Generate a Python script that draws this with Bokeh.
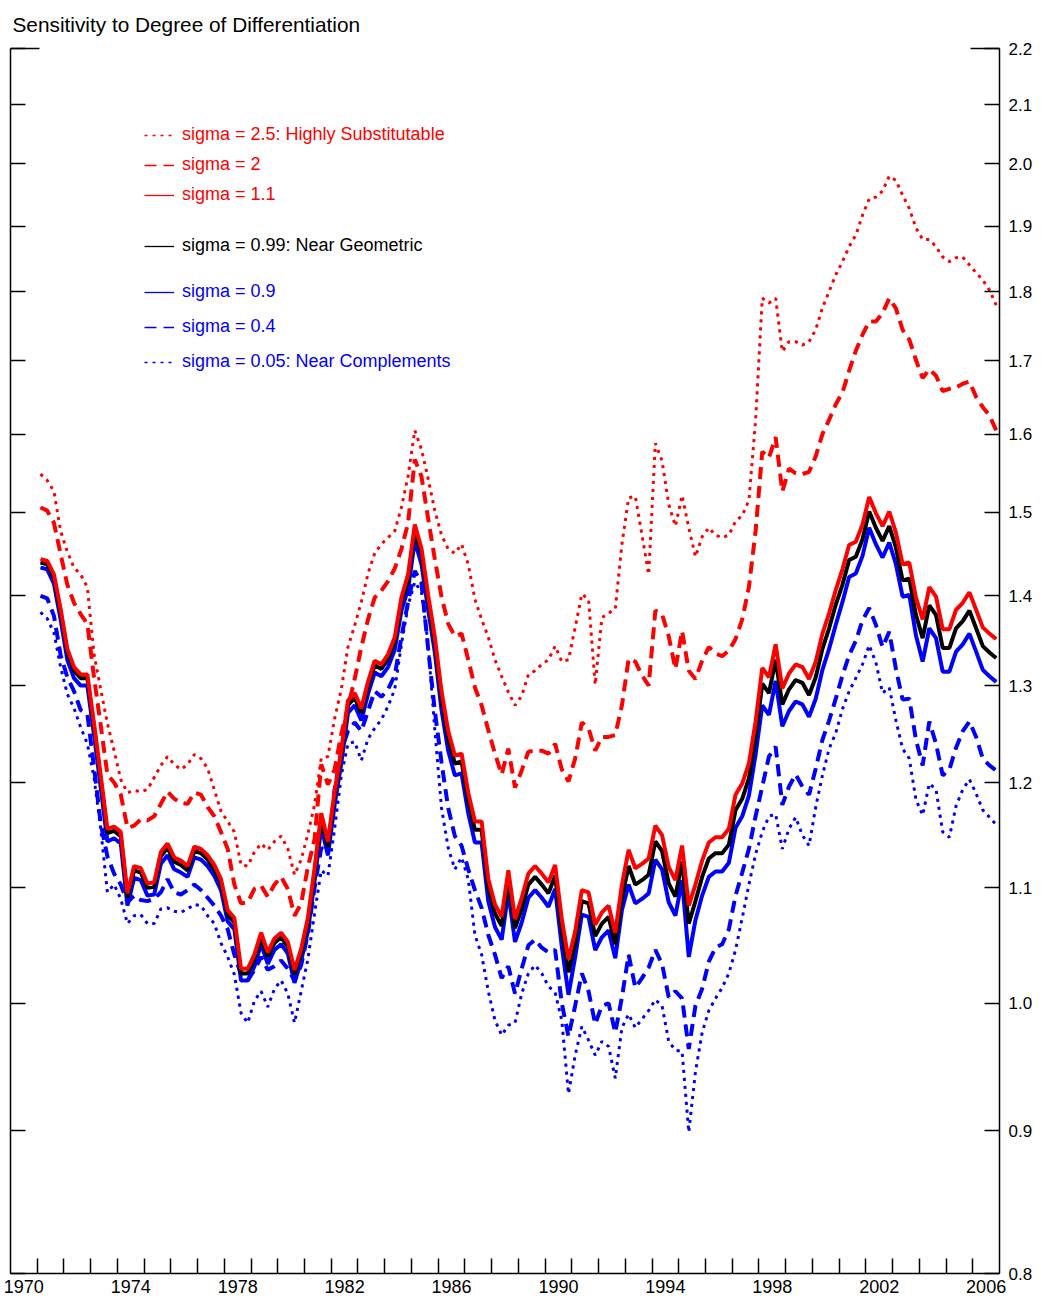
from bokeh.plotting import figure
from bokeh.models import (Range1d, LogAxis, FixedTicker, NumeralTickFormatter,
                          Legend, LegendItem)
from bokeh.embed import file_html
from bokeh.resources import INLINE

# ---------------- data (quarterly, 1971Q1 .. 2006Q4) ----------------
years = list(range(1971, 2007))
dates = [y + (q - 0.5) / 4 for y in years for q in range(1, 5)]

sigma_2_5 = [
    1.548, 1.540, 1.526, 1.477, 1.452, 1.433, 1.425, 1.410,
    1.334, 1.296, 1.260, 1.232, 1.203, 1.190, 1.192, 1.191,
    1.193, 1.205, 1.217, 1.226, 1.218, 1.213, 1.218, 1.228,
    1.224, 1.214, 1.193, 1.172, 1.162, 1.152, 1.121, 1.120,
    1.133, 1.141, 1.135, 1.143, 1.148, 1.136, 1.112, 1.126,
    1.150, 1.178, 1.224, 1.226, 1.265, 1.296, 1.342, 1.366,
    1.393, 1.426, 1.450, 1.461, 1.469, 1.477, 1.506, 1.546,
    1.605, 1.580, 1.542, 1.502, 1.472, 1.455, 1.450, 1.461,
    1.437, 1.396, 1.373, 1.353, 1.328, 1.310, 1.293, 1.279,
    1.289, 1.312, 1.316, 1.323, 1.328, 1.343, 1.326, 1.328,
    1.364, 1.402, 1.396, 1.301, 1.375, 1.380, 1.385, 1.461,
    1.518, 1.520, 1.472, 1.425, 1.588, 1.565, 1.510, 1.483,
    1.521, 1.481, 1.446, 1.470, 1.481, 1.472, 1.469, 1.472,
    1.489, 1.496, 1.515, 1.618, 1.790, 1.783, 1.790, 1.713,
    1.727, 1.727, 1.722, 1.727, 1.744, 1.776, 1.800, 1.825,
    1.845, 1.868, 1.886, 1.917, 1.943, 1.946, 1.956, 1.980,
    1.973, 1.949, 1.928, 1.897, 1.879, 1.879, 1.868, 1.852,
    1.845, 1.851, 1.852, 1.840, 1.828, 1.817, 1.802, 1.780,
]

sigma_2 = [
    1.506, 1.502, 1.487, 1.449, 1.413, 1.392, 1.379, 1.368,
    1.309, 1.258, 1.208, 1.200, 1.188, 1.156, 1.158, 1.164,
    1.163, 1.167, 1.179, 1.191, 1.184, 1.180, 1.179, 1.190,
    1.188, 1.176, 1.167, 1.152, 1.136, 1.103, 1.086, 1.087,
    1.099, 1.102, 1.092, 1.103, 1.110, 1.099, 1.075, 1.086,
    1.119, 1.145, 1.218, 1.198, 1.213, 1.249, 1.277, 1.307,
    1.342, 1.373, 1.398, 1.406, 1.417, 1.432, 1.455, 1.487,
    1.567, 1.545, 1.492, 1.443, 1.399, 1.368, 1.354, 1.357,
    1.328, 1.298, 1.279, 1.253, 1.229, 1.208, 1.234, 1.195,
    1.212, 1.231, 1.232, 1.232, 1.229, 1.239, 1.213, 1.201,
    1.224, 1.261, 1.255, 1.232, 1.246, 1.246, 1.248, 1.279,
    1.329, 1.326, 1.311, 1.300, 1.383, 1.379, 1.354, 1.318,
    1.360, 1.316, 1.307, 1.327, 1.342, 1.335, 1.332, 1.338,
    1.351, 1.373, 1.410, 1.477, 1.577, 1.569, 1.596, 1.526,
    1.555, 1.549, 1.548, 1.551, 1.571, 1.600, 1.619, 1.640,
    1.656, 1.686, 1.714, 1.737, 1.756, 1.756, 1.768, 1.790,
    1.775, 1.744, 1.730, 1.701, 1.676, 1.688, 1.679, 1.658,
    1.661, 1.663, 1.668, 1.671, 1.650, 1.636, 1.625, 1.605,
]

sigma_1_1 = [
    1.443, 1.441, 1.425, 1.385, 1.340, 1.320, 1.312, 1.312,
    1.260, 1.207, 1.155, 1.157, 1.152, 1.095, 1.120, 1.118,
    1.104, 1.105, 1.133, 1.141, 1.128, 1.125, 1.120, 1.138,
    1.136, 1.130, 1.121, 1.108, 1.080, 1.073, 1.029, 1.029,
    1.041, 1.060, 1.043, 1.055, 1.060, 1.052, 1.028, 1.046,
    1.073, 1.118, 1.170, 1.143, 1.191, 1.232, 1.284, 1.292,
    1.276, 1.304, 1.327, 1.323, 1.334, 1.353, 1.398, 1.425,
    1.485, 1.456, 1.401, 1.353, 1.294, 1.252, 1.227, 1.229,
    1.190, 1.162, 1.162, 1.108, 1.085, 1.074, 1.116, 1.072,
    1.091, 1.113, 1.120, 1.113, 1.105, 1.121, 1.072, 1.037,
    1.061, 1.098, 1.096, 1.067, 1.078, 1.084, 1.060, 1.103,
    1.135, 1.118, 1.122, 1.127, 1.158, 1.149, 1.119, 1.107,
    1.139, 1.084, 1.103, 1.125, 1.142, 1.147, 1.147, 1.155,
    1.188, 1.199, 1.219, 1.262, 1.319, 1.309, 1.345, 1.297,
    1.313, 1.323, 1.320, 1.307, 1.326, 1.357, 1.380, 1.407,
    1.431, 1.460, 1.464, 1.485, 1.519, 1.499, 1.483, 1.501,
    1.475, 1.437, 1.439, 1.398, 1.373, 1.410, 1.399, 1.362,
    1.362, 1.384, 1.392, 1.404, 1.384, 1.364, 1.357, 1.351,
]

sigma_0_99 = [
    1.439, 1.437, 1.421, 1.381, 1.336, 1.316, 1.308, 1.308,
    1.256, 1.203, 1.151, 1.153, 1.148, 1.091, 1.116, 1.114,
    1.100, 1.101, 1.129, 1.137, 1.124, 1.121, 1.116, 1.134,
    1.132, 1.126, 1.117, 1.104, 1.076, 1.069, 1.025, 1.025,
    1.037, 1.056, 1.039, 1.051, 1.056, 1.048, 1.024, 1.042,
    1.068, 1.113, 1.165, 1.138, 1.186, 1.227, 1.279, 1.287,
    1.271, 1.299, 1.322, 1.318, 1.329, 1.348, 1.392, 1.418,
    1.477, 1.448, 1.394, 1.346, 1.286, 1.244, 1.219, 1.221,
    1.182, 1.154, 1.154, 1.100, 1.077, 1.066, 1.107, 1.064,
    1.081, 1.103, 1.110, 1.103, 1.095, 1.111, 1.062, 1.026,
    1.051, 1.088, 1.086, 1.057, 1.068, 1.074, 1.050, 1.091,
    1.120, 1.103, 1.107, 1.112, 1.143, 1.134, 1.104, 1.092,
    1.124, 1.068, 1.088, 1.110, 1.127, 1.132, 1.132, 1.140,
    1.173, 1.184, 1.204, 1.246, 1.302, 1.292, 1.328, 1.280,
    1.296, 1.306, 1.303, 1.290, 1.309, 1.340, 1.363, 1.390,
    1.413, 1.442, 1.446, 1.467, 1.501, 1.481, 1.465, 1.483,
    1.457, 1.418, 1.420, 1.378, 1.352, 1.389, 1.378, 1.341,
    1.341, 1.363, 1.371, 1.383, 1.363, 1.343, 1.336, 1.330,
]

sigma_0_9 = [
    1.433, 1.431, 1.414, 1.373, 1.328, 1.308, 1.300, 1.300,
    1.248, 1.195, 1.143, 1.146, 1.141, 1.084, 1.109, 1.107,
    1.093, 1.094, 1.122, 1.130, 1.117, 1.114, 1.110, 1.128,
    1.126, 1.120, 1.111, 1.098, 1.070, 1.063, 1.019, 1.019,
    1.031, 1.050, 1.033, 1.045, 1.050, 1.042, 1.017, 1.036,
    1.061, 1.106, 1.157, 1.130, 1.178, 1.219, 1.271, 1.279,
    1.263, 1.291, 1.314, 1.310, 1.320, 1.339, 1.383, 1.408,
    1.465, 1.437, 1.384, 1.336, 1.274, 1.232, 1.207, 1.209,
    1.170, 1.142, 1.142, 1.088, 1.065, 1.054, 1.096, 1.052,
    1.069, 1.091, 1.098, 1.091, 1.083, 1.099, 1.048, 1.007,
    1.039, 1.076, 1.074, 1.045, 1.056, 1.062, 1.038, 1.080,
    1.103, 1.086, 1.090, 1.095, 1.126, 1.117, 1.087, 1.075,
    1.107, 1.039, 1.071, 1.093, 1.110, 1.115, 1.115, 1.123,
    1.156, 1.167, 1.187, 1.228, 1.279, 1.269, 1.305, 1.257,
    1.273, 1.283, 1.280, 1.267, 1.286, 1.317, 1.340, 1.367,
    1.393, 1.422, 1.426, 1.447, 1.481, 1.461, 1.445, 1.463,
    1.437, 1.399, 1.401, 1.355, 1.326, 1.363, 1.352, 1.315,
    1.315, 1.337, 1.345, 1.357, 1.337, 1.317, 1.310, 1.304,
]

sigma_0_4 = [
    1.400, 1.397, 1.377, 1.333, 1.309, 1.294, 1.274, 1.270,
    1.215, 1.160, 1.129, 1.113, 1.103, 1.087, 1.093, 1.089,
    1.088, 1.090, 1.096, 1.108, 1.096, 1.094, 1.098, 1.103,
    1.098, 1.091, 1.084, 1.075, 1.063, 1.041, 1.024, 1.019,
    1.028, 1.039, 1.028, 1.031, 1.036, 1.029, 1.019, 1.032,
    1.059, 1.100, 1.137, 1.131, 1.193, 1.232, 1.252, 1.261,
    1.252, 1.273, 1.294, 1.288, 1.296, 1.311, 1.353, 1.393,
    1.429, 1.415, 1.340, 1.273, 1.220, 1.175, 1.148, 1.139,
    1.117, 1.098, 1.082, 1.058, 1.041, 1.021, 1.031, 1.008,
    1.029, 1.049, 1.054, 1.047, 1.043, 1.045, 1.000, 0.973,
    0.998, 1.025, 1.010, 0.983, 0.998, 1.000, 0.976, 1.005,
    1.041, 1.013, 1.021, 1.030, 1.045, 1.033, 1.005, 1.010,
    1.004, 0.963, 0.998, 1.012, 1.035, 1.047, 1.050, 1.063,
    1.093, 1.114, 1.136, 1.167, 1.196, 1.226, 1.236, 1.178,
    1.196, 1.208, 1.196, 1.188, 1.214, 1.243, 1.263, 1.286,
    1.311, 1.333, 1.349, 1.372, 1.386, 1.367, 1.342, 1.359,
    1.318, 1.285, 1.286, 1.243, 1.217, 1.262, 1.239, 1.207,
    1.213, 1.235, 1.252, 1.262, 1.246, 1.224, 1.217, 1.212,
]

sigma_0_05 = [
    1.381, 1.374, 1.358, 1.320, 1.291, 1.276, 1.256, 1.239,
    1.205, 1.155, 1.096, 1.103, 1.090, 1.068, 1.075, 1.076,
    1.068, 1.068, 1.081, 1.082, 1.079, 1.078, 1.081, 1.085,
    1.084, 1.075, 1.068, 1.051, 1.039, 1.024, 0.992, 0.984,
    1.002, 1.010, 0.997, 1.012, 1.019, 1.008, 0.984, 1.010,
    1.037, 1.077, 1.116, 1.111, 1.155, 1.207, 1.239, 1.241,
    1.222, 1.244, 1.255, 1.264, 1.278, 1.296, 1.345, 1.389,
    1.416, 1.404, 1.345, 1.253, 1.175, 1.137, 1.117, 1.128,
    1.108, 1.058, 1.041, 1.010, 0.986, 0.974, 0.982, 0.984,
    1.008, 1.025, 1.032, 1.025, 1.014, 1.009, 0.986, 0.928,
    0.958, 0.981, 0.970, 0.958, 0.969, 0.965, 0.940, 0.980,
    0.991, 0.980, 0.987, 0.994, 1.003, 0.998, 0.969, 0.962,
    0.961, 0.899, 0.945, 0.976, 0.994, 1.004, 1.013, 1.025,
    1.045, 1.073, 1.103, 1.131, 1.152, 1.167, 1.169, 1.136,
    1.155, 1.166, 1.149, 1.139, 1.176, 1.207, 1.234, 1.250,
    1.275, 1.294, 1.308, 1.323, 1.344, 1.325, 1.292, 1.298,
    1.263, 1.234, 1.224, 1.183, 1.168, 1.199, 1.193, 1.152,
    1.147, 1.177, 1.193, 1.203, 1.189, 1.173, 1.166, 1.159,
]

label_years = [1970, 1974, 1978, 1982, 1986, 1990, 1994, 1998, 2002, 2006]
tick_years = list(range(1971, 2007))
y_ticks = [0.8, 0.9, 1.0, 1.1, 1.2, 1.3, 1.4, 1.5, 1.6, 1.7, 1.8, 1.9, 2.0, 2.1, 2.2]

title_text = "Sensitivity to Degree of Differentiation"
labels = [
    "sigma = 2.5: Highly Substitutable",
    "sigma = 2",
    "sigma = 1.1",
    "sigma = 0.99: Near Geometric",
    "sigma = 0.9",
    "sigma = 0.4",
    "sigma = 0.05: Near Complements",
]

RED = "#ff0000"
BLUE = "#0000ff"
BLACK = "#000000"
FONT = "Liberation Sans"
DOT = "3 5"
DASH = "12 7"

# ---------------- figure ----------------
W, H = 1041, 1300
TOP, BOTTOM, LEFT, RIGHT = 48, 27, 10, 42
p = figure(width=W, height=H,
           x_range=Range1d(1970, 2007), y_range=Range1d(0.8, 2.2),
           y_axis_type="log", y_axis_location="right",
           output_backend="svg", toolbar_location=None,
           min_border_left=LEFT, min_border_right=RIGHT,
           min_border_top=TOP, min_border_bottom=BOTTOM)
p.grid.visible = False
p.outline_line_color = None

p.title.text = title_text
p.title.text_font = FONT
p.title.text_font_size = "20.8px"
p.title.text_font_style = "normal"
p.title.text_color = "black"
p.title.align = "left"
p.title.vertical_align = "top"
p.title.offset = 2
p.title.standoff = 22

# bottom axis: year ticks at year boundaries, labels centred in the year
xa = p.xaxis[0]
xa.ticker = FixedTicker(ticks=[y + 0.5 for y in label_years], minor_ticks=tick_years)
xa.major_label_overrides = {y + 0.5: str(y) for y in label_years}
xa.major_tick_in = 0
xa.major_tick_out = 0
xa.minor_tick_in = 15
xa.minor_tick_out = 0
xa.minor_tick_line_width = 1.5
xa.minor_tick_line_color = "black"
xa.axis_line_width = 1.5
xa.axis_line_color = "black"
xa.major_label_standoff = 6
xa.major_label_text_font = FONT
xa.major_label_text_font_size = "18px"
xa.major_label_text_color = "black"

# right axis with labels
ya = p.yaxis[0]
ya.ticker = FixedTicker(ticks=y_ticks)
ya.formatter = NumeralTickFormatter(format="0.0")
ya.major_tick_in = 15
ya.major_tick_out = 0
ya.minor_tick_in = 0
ya.minor_tick_out = 0
ya.major_tick_line_width = 1.5
ya.axis_line_width = 1.5
ya.major_label_standoff = 9
ya.major_label_text_font = FONT
ya.major_label_text_font_size = "17px"
ya.major_label_text_color = "black"

def tick_only_axis(ticks, length, line=True):
    return LogAxis(ticker=FixedTicker(ticks=ticks), major_tick_in=length, major_tick_out=0,
                   minor_tick_in=0, minor_tick_out=0, major_tick_line_width=1.5,
                   axis_line_width=1.5, axis_line_color="black" if line else None,
                   major_label_text_color=None, major_label_text_font_size="1px",
                   major_label_standoff=0)

# left axis: ticks only; plus a longer tick at the top value on both sides
la = tick_only_axis(y_ticks, 15)
la_top = tick_only_axis(y_ticks[-1:], 29, line=False)
ra_top = tick_only_axis(y_ticks[-1:], 29, line=False)
p.left = [la, la_top]
p.right = [ra_top] + list(p.right)

# ---------------- series ----------------
series = [
    (sigma_2_5, RED, DOT, 3),
    (sigma_2, RED, DASH, 4),
    (sigma_1_1, RED, "solid", 4),
    (sigma_0_99, BLACK, "solid", 4),
    (sigma_0_9, BLUE, "solid", 4),
    (sigma_0_4, BLUE, DASH, 4),
    (sigma_0_05, BLUE, DOT, 3),
]

# thin copies underneath: used as the (thin) legend samples
thin = [p.line(dates, s, line_color=c, line_width=1.3, line_dash=d) for s, c, d, w in series]

draw_order = [6, 5, 0, 1, 4, 3, 2]
for i in draw_order:
    s, c, d, w = series[i]
    p.line(dates, s, line_color=c, line_width=w, line_dash=d)

# ---------------- legends ----------------
def make_legend(idx, color, loc, spacing):
    lg = Legend(items=[LegendItem(label=labels[i], renderers=[thin[i]]) for i in idx],
                location=loc, spacing=spacing, padding=0, margin=0,
                glyph_width=30, glyph_height=20, label_height=20, label_standoff=8,
                border_line_color=None, background_fill_alpha=0,
                label_text_font=FONT, label_text_font_size="18px",
                label_text_color=color)
    p.add_layout(lg)

make_legend([0, 1, 2], RED, (134, 1068), 9)
make_legend([3], BLACK, (134, 1017), 9)
make_legend([4, 5, 6], BLUE, (134, 901), 14)

open("out.html", "w").write(file_html(p, INLINE))
